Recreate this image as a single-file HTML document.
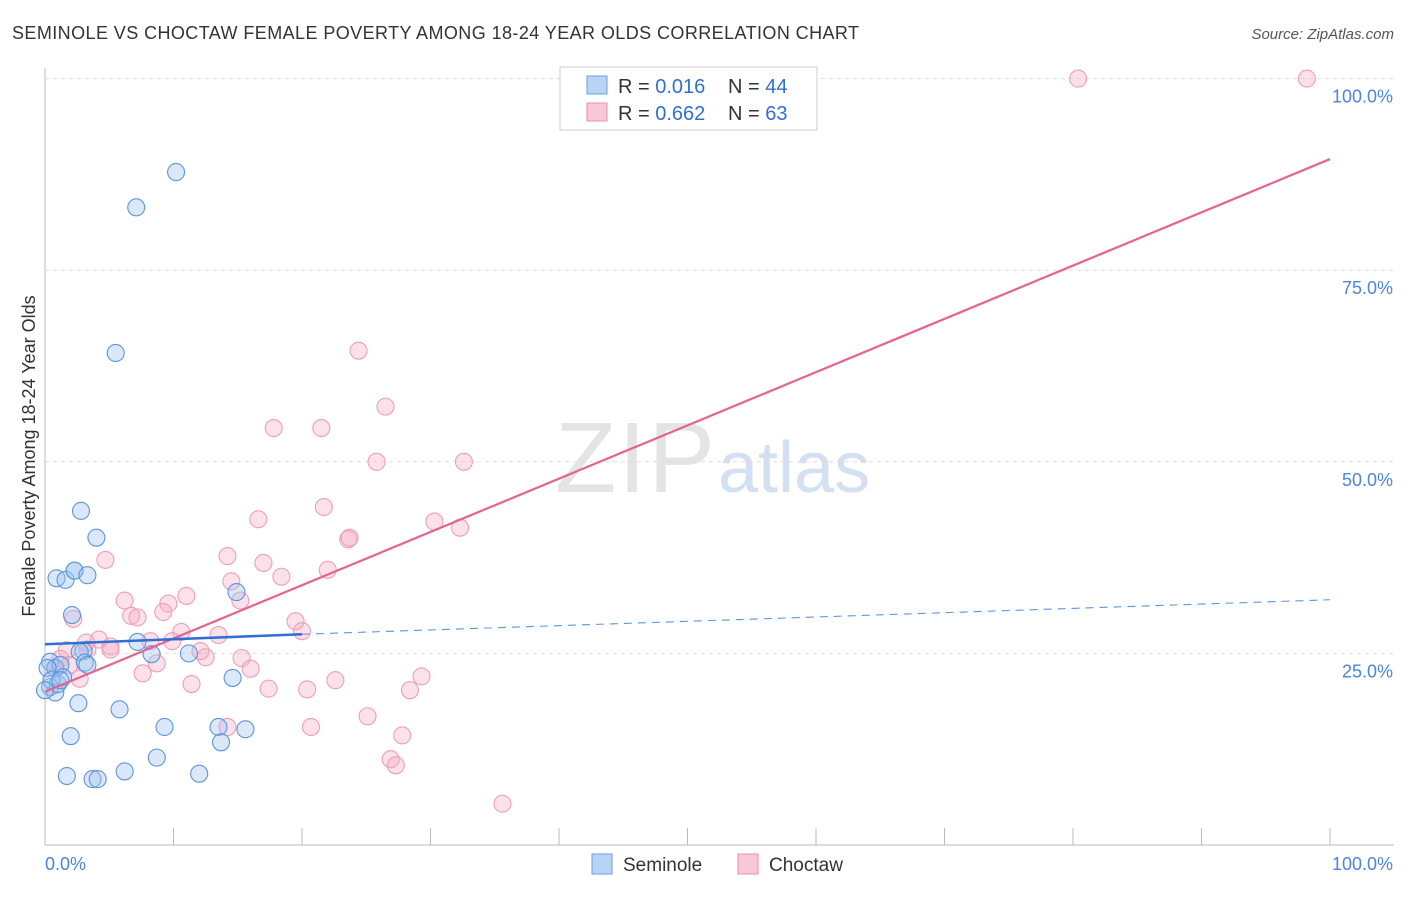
<!DOCTYPE html>
<html><head><meta charset="utf-8"><style>
body{margin:0;background:#fff;font-family:"Liberation Sans",sans-serif;}
svg text{font-family:"Liberation Sans",sans-serif;}
</style></head><body>
<svg id="c" width="1406" height="892">
<text x="12" y="39" font-size="18" fill="#333" textLength="847">SEMINOLE VS CHOCTAW FEMALE POVERTY AMONG 18-24 YEAR OLDS CORRELATION CHART</text>
<text x="1394" y="39" font-size="15" fill="#555" font-style="italic" text-anchor="end">Source: ZipAtlas.com</text>
<text x="35" y="456" font-size="18" fill="#333" text-anchor="middle" transform="rotate(-90 35 456)">Female Poverty Among 18-24 Year Olds</text>
<text x="555" y="492" font-size="100" fill="#e4e4e4" font-family="Liberation Serif" textLength="160">ZIP</text>
<text x="718" y="492" font-size="72" fill="#d3e0f2">atlas</text>
<g id="grid"></g><g id="pts"></g><g id="lines"></g>
<g>
<rect x="560" y="67" width="257" height="63" fill="#fff" stroke="#ccc"/>
<rect x="587" y="76" width="20" height="18" fill="#b9d3f5" stroke="#6a9fe0"/>
<rect x="587" y="103" width="20" height="18" fill="#f9c8d6" stroke="#ea8fab"/>
<text x="618" y="93" font-size="20" fill="#333">R = <tspan fill="#2f6fd6">0.016</tspan></text>
<text x="728" y="93" font-size="20" fill="#333">N = <tspan fill="#2f6fd6">44</tspan></text>
<text x="618" y="120" font-size="20" fill="#333">R = <tspan fill="#2f6fd6">0.662</tspan></text>
<text x="728" y="120" font-size="20" fill="#333">N = <tspan fill="#2f6fd6">63</tspan></text>
</g>
<g>
<rect x="592" y="854" width="20" height="20" fill="#b9d3f5" stroke="#6a9fe0"/>
<text x="623" y="871" font-size="19" fill="#333">Seminole</text>
<rect x="738" y="854" width="20" height="20" fill="#f9c8d6" stroke="#ea8fab"/>
<text x="769" y="871" font-size="19" fill="#333">Choctaw</text>
</g>
</svg>
<script>
const yTicks=[25,50,75,100];
const xTickLabels=["0.0%","100.0%"];
const semX=[10.2,7.1,5.5,2.8,4.0,0.9,1.6,2.3,2.3,3.3,2.1,14.9,7.2,8.3,11.2,3.0,2.7,3.1,3.3,14.6,2.6,5.8,2.0,9.3,13.5,15.6,13.7,8.7,1.7,3.7,4.1,6.2,12.0,0.4,0.8,1.2,0.4,0.8,1.0,1.4,0.2,0.5,1.2,0.0];
const semY=[87.8,83.2,64.2,43.6,40.1,34.8,34.6,35.8,35.8,35.2,30.0,33.0,26.5,24.9,25.0,25.3,25.2,23.8,23.5,21.8,18.5,17.7,14.2,15.4,15.4,15.1,13.4,11.4,9.0,8.6,8.6,9.6,9.3,23.9,23.1,23.5,20.6,19.9,21.0,21.9,23.1,21.5,21.5,20.2];
const choX=[80.4,98.2,24.4,26.5,17.8,21.5,25.8,32.6,16.6,21.7,30.3,32.3,23.6,23.7,14.2,4.7,17.0,18.4,14.5,22.0,15.2,11.0,6.2,9.6,9.2,6.7,7.2,2.2,19.5,20.0,13.5,10.6,8.2,9.9,4.2,3.2,5.1,3.3,12.5,12.1,15.3,8.7,7.6,16.0,11.4,29.3,22.6,17.4,20.4,28.4,1.7,1.2,2.7,0.8,25.1,14.2,20.7,27.8,26.9,27.3,35.6,1.9,5.1];
const choY=[100,100,64.5,57.2,54.4,54.4,50.0,50.0,42.5,44.1,42.2,41.4,39.9,40.1,37.7,37.2,36.8,35.0,34.4,35.9,31.9,32.5,31.9,31.5,30.4,29.9,29.7,29.5,29.2,27.9,27.4,27.8,26.6,26.6,26.8,26.4,25.9,25.5,24.5,25.3,24.4,23.7,22.4,23.0,21.0,22.0,21.5,20.4,20.3,20.2,25.4,24.3,21.7,23.0,16.8,15.4,15.4,14.3,11.2,10.4,5.4,23.5,25.5];
const semFit=[26.2,27.5,32.0];
const choFit=[20.0,89.5];
const X=v=>45+v*12.85, Y=v=>845-v*7.664;
const NS="http://www.w3.org/2000/svg";
function mk(t,a,p){const e=document.createElementNS(NS,t);for(const k in a)e.setAttribute(k,a[k]);p.appendChild(e);return e;}
const g=document.getElementById('grid');
mk('line',{x1:45,y1:68,x2:45,y2:845,stroke:'#bbb'},g);
mk('line',{x1:45,y1:845,x2:1394,y2:845,stroke:'#bbb'},g);
for(let i=1;i<=10;i++){const t=mk('line',{x1:45+i*128.5,y1:828,x2:45+i*128.5,y2:845,stroke:'#bbb'},g);

}
yTicks.forEach(v=>{const l=mk('line',{x1:45,y1:Y(v),x2:1394,y2:Y(v),stroke:'#ddd','stroke-dasharray':'4,4'},g);


const t=mk('text',{x:1393,y:Y(v)+24,'font-size':18,fill:'#4a86dc','text-anchor':'end'},g);t.textContent=v.toFixed(1)+'%';

});
const xl0=mk('text',{x:45,y:870,'font-size':18,fill:'#4a86dc'},g);xl0.textContent=xTickLabels[0];


const xl1=mk('text',{x:1393,y:870,'font-size':18,fill:'#4a86dc','text-anchor':'end'},g);xl1.textContent=xTickLabels[1];


const p=document.getElementById('pts');
choX.forEach((x,i)=>{const c=mk('circle',{cx:X(x),cy:Y(choY[i]),r:8.5,fill:'rgba(246,170,195,0.35)',stroke:'#ee9fb8','stroke-width':1.1},p);

});
semX.forEach((x,i)=>{const c=mk('circle',{cx:X(x),cy:Y(semY[i]),r:8.5,fill:'rgba(160,195,240,0.38)',stroke:'#5d95dd','stroke-width':1.1},p);

});
const L=document.getElementById('lines');
const l1=mk('line',{x1:X(0),y1:Y(choFit[0]),x2:X(100),y2:Y(choFit[1]),stroke:'#e8628f','stroke-width':2.2},L);


const l2=mk('line',{x1:X(0),y1:Y(semFit[0]),x2:X(20),y2:Y(semFit[1]),stroke:'#2e6fd3','stroke-width':2.5},L);


const l3=mk('line',{x1:X(20),y1:Y(semFit[1]),x2:X(100),y2:Y(semFit[2]),stroke:'#5d95dd','stroke-width':1.1,'stroke-dasharray':'8,6'},L);


</script>
</body></html>
